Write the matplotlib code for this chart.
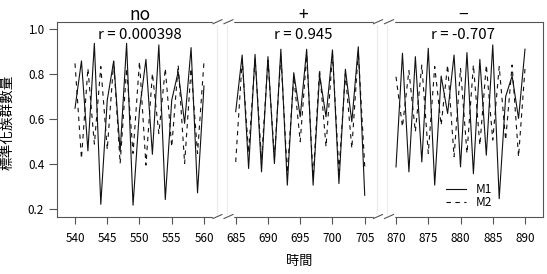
import numpy as np
import matplotlib.pyplot as plt
from matplotlib.lines import Line2D
from matplotlib.patches import Rectangle

plt.rcParams['font.family'] = ['Noto Sans CJK TC', 'DejaVu Sans']

# three windows of the same two series, shown on one broken time axis
time_no = list(range(540, 561))
m1_no = [0.648, 0.858, 0.459, 0.936, 0.222, 0.684, 0.858, 0.455, 0.936, 0.218, 0.640,
         0.865, 0.444, 0.929, 0.243, 0.684, 0.810, 0.581, 0.917, 0.273, 0.747]
m2_no = [0.847, 0.425, 0.825, 0.489, 0.833, 0.465, 0.855, 0.403, 0.825, 0.448, 0.855,
         0.396, 0.803, 0.536, 0.825, 0.477, 0.840, 0.403, 0.825, 0.448, 0.855]

time_pos = list(range(685, 706))
m1_pos = [0.633, 0.884, 0.381, 0.887, 0.366, 0.877, 0.403, 0.910, 0.307, 0.806, 0.610,
          0.910, 0.307, 0.796, 0.610, 0.907, 0.314, 0.821, 0.588, 0.921, 0.262]
m2_pos = [0.410, 0.860, 0.450, 0.870, 0.420, 0.860, 0.430, 0.880, 0.360, 0.790, 0.500,
          0.884, 0.340, 0.820, 0.477, 0.890, 0.370, 0.800, 0.470, 0.900, 0.390]

time_neg = list(range(870, 891))
m1_neg = [0.388, 0.892, 0.366, 0.877, 0.410, 0.914, 0.307, 0.791, 0.625, 0.884, 0.388,
          0.895, 0.358, 0.865, 0.440, 0.929, 0.247, 0.700, 0.791, 0.603, 0.910]
m2_neg = [0.788, 0.566, 0.815, 0.544, 0.840, 0.448, 0.833, 0.573, 0.840, 0.433, 0.825,
          0.448, 0.840, 0.484, 0.840, 0.507, 0.833, 0.507, 0.840, 0.433, 0.825]

titles = ["no", "+", "\u2212"]
r_labels = ["r = 0.000398", "r = 0.945", "r = -0.707"]
x_ticks = [[540, 545, 550, 555, 560], [685, 690, 695, 700, 705], [870, 875, 880, 885, 890]]
y_ticks = [0.2, 0.4, 0.6, 0.8, 1.0]

panels = [(time_no, m1_no, m2_no), (time_pos, m1_pos, m2_pos), (time_neg, m1_neg, m2_neg)]

# layout in pixels
W, H = 547, 274
top, bottom = 21.7, 216.5
edges = [56.7, 223, 383.5, 543]
xlims = [(537.16, 562.95), (683.03, 707.91), (868.06, 892.79)]
frame_col = '#555555'

fig = plt.figure(figsize=(W / 100, H / 100), dpi=100)

axes = []
for i, (t, m1, m2) in enumerate(panels):
    x0, x1 = edges[i], edges[i + 1]
    ax = fig.add_axes([x0 / W, 1 - bottom / H, (x1 - x0) / W, (bottom - top) / H])
    ax.set_facecolor('none')
    ax.plot(t, m1, color='#111111', lw=0.8, label='M1')
    ax.plot(t, m2, color='#111111', lw=0.8, linestyle=(0, (4, 4)), label='M2')
    ax.set_xlim(*xlims[i])
    ax.set_ylim(0.168, 1.032)
    ax.set_xticks(x_ticks[i])
    ax.set_yticks(y_ticks)
    ax.tick_params(axis='x', length=5, width=0.8, color=frame_col, pad=6, labelsize=8.4)
    ax.tick_params(axis='y', length=6, width=0.8, color=frame_col, pad=3, labelsize=8.4)
    for s in ax.spines.values():
        s.set_color(frame_col)
        s.set_linewidth(0.8)
    if i > 0:
        ax.spines['left'].set_visible(False)
        ax.tick_params(axis='y', left=False, labelleft=False)
    if i < 2:
        ax.spines['right'].set_visible(False)
    ax.text(0.5, 1.0087, titles[i], transform=ax.transAxes, ha='center', va='baseline', fontsize=12.5)
    ax.text(0.5, 0.9097, r_labels[i], transform=ax.transAxes, ha='center', va='baseline', fontsize=10.8)
    axes.append(ax)

ax3 = axes[2]
ax3.legend(loc='center left', bbox_to_anchor=(0.392, 0.105), frameon=False, fontsize=8.5,
           borderpad=0, borderaxespad=0, handlelength=1.7, handletextpad=0.85, labelspacing=0.07)

# axis breaks: faint guides, white gap and a double slash on the frame
for c in edges[1:3]:
    for dx in (-6.5, 3.5):
        fig.add_artist(Line2D([(c + dx) / W] * 2, [1 - top / H, 1 - bottom / H],
                              color='#ebebeb', lw=0.8, zorder=-1))
    for y in (top, bottom):
        fig.add_artist(Rectangle(((c - 10) / W, 1 - (y + 2) / H), 20 / W, 4 / H,
                                 color='white', zorder=5))
        for a, b in ((c - 10, c - 1), (c + 1, c + 10)):
            fig.add_artist(Line2D([a / W, b / W], [1 - (y + 2) / H, 1 - (y - 2) / H],
                                  color=frame_col, lw=0.8, zorder=6))

fig.text(7 / W, 1 - 122 / H, "標準化族群數量", rotation=90, ha='center', va='center', fontsize=9.8)
fig.text(299 / W, 1 - 262 / H, "時間", ha='center', va='center', fontsize=9.5)

fig.savefig("out.png", dpi=100)
